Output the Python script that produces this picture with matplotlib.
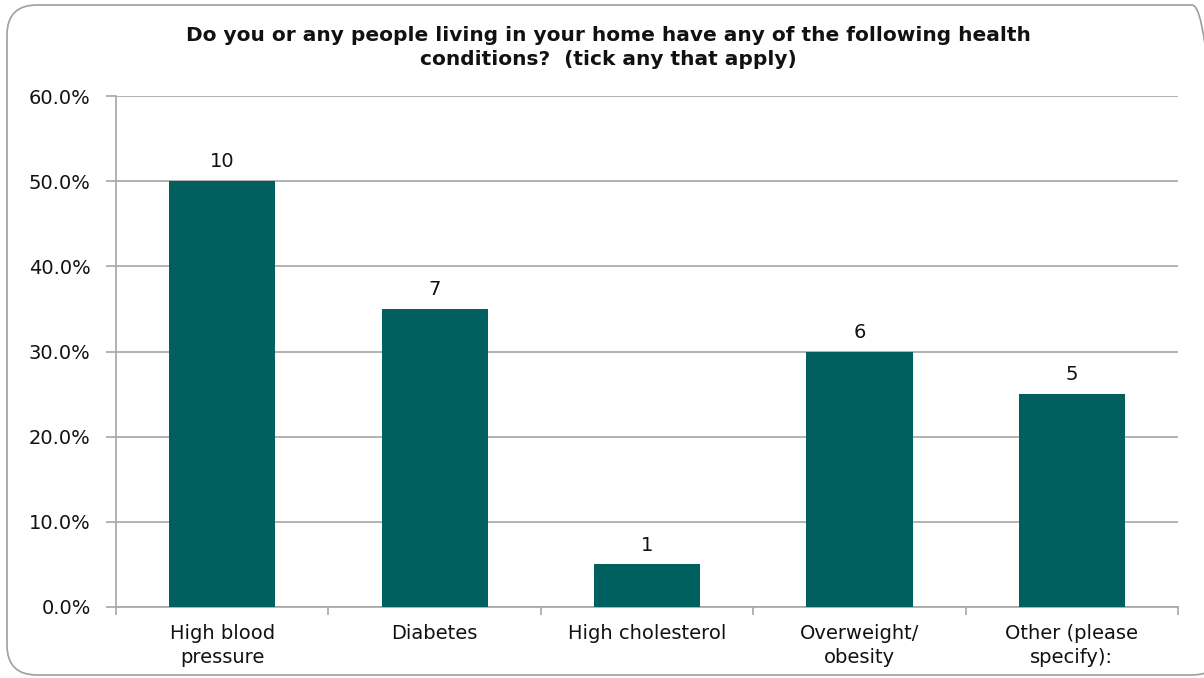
import matplotlib.pyplot as plt
from matplotlib.patches import FancyBboxPatch
from matplotlib.ticker import FuncFormatter, FixedLocator

categories = ["High blood\npressure", "Diabetes", "High cholesterol",
              "Overweight/\nobesity", "Other (please\nspecify):"]
counts = [10, 7, 1, 6, 5]
total = 20
percents = [c / total * 100 for c in counts]

bar_color = "#005F5F"
grid_color = "#A6A6A6"
text_color = "#111111"

plt.rcParams["font.family"] = ["DejaVu Sans"]

W, H = 1204, 678
fig = plt.figure(figsize=(W / 100, H / 100), dpi=100)

# rounded frame drawn in pixel units on a background axes
bg = fig.add_axes([0, 0, 1, 1])
bg.set_xlim(0, W)
bg.set_ylim(0, H)
bg.axis("off")
bg.add_patch(FancyBboxPatch((7, 3), 1215, 670,
                            boxstyle="round,pad=0,rounding_size=30",
                            fill=False, edgecolor="#9E9E9E", linewidth=1.2))

ax = fig.add_axes([116 / W, 1 - 607 / H, (1178 - 116) / W, (607 - 96) / H])
x = range(len(categories))
bars = ax.bar(x, percents, width=0.5, color=bar_color, zorder=3)

for rect, n in zip(bars, counts):
    ax.annotate(str(n), (rect.get_x() + rect.get_width() / 2, rect.get_height()),
                xytext=(0, 7), textcoords="offset points",
                ha="center", va="bottom", fontsize=14, color=text_color)

ax.set_xlim(-0.5, len(categories) - 0.5)
ax.set_ylim(0, 60)
ax.yaxis.set_major_locator(FixedLocator([0, 10, 20, 30, 40, 50, 60]))
ax.yaxis.set_major_formatter(FuncFormatter(lambda v, _: f"{v:.1f}%"))
ax.grid(axis="y", color=grid_color, linewidth=1.2, zorder=0)

ax.set_xticks(list(x))
ax.set_xticklabels(categories, fontsize=14, color=text_color, linespacing=1.35)
ax.xaxis.set_minor_locator(FixedLocator([i - 0.5 for i in range(len(categories) + 1)]))
ax.tick_params(axis="x", which="major", length=0, pad=12)
ax.tick_params(axis="x", which="minor", length=6, color=grid_color, width=1.2)
ax.tick_params(axis="y", length=7.2, color=grid_color, width=1.2,
               labelsize=14, labelcolor=text_color, pad=11)

for side in ("top", "right"):
    ax.spines[side].set_visible(False)
for side in ("left", "bottom"):
    ax.spines[side].set_color(grid_color)
    ax.spines[side].set_linewidth(1.2)

fig.text(0.505, 1 - 47.5 / H,
         "Do you or any people living in your home have any of the following health\n"
         "conditions?  (tick any that apply)",
         ha="center", va="center", fontsize=14.5, fontweight="bold",
         color=text_color, linespacing=1.3)

fig.savefig("out.png", dpi=100, facecolor="white")
